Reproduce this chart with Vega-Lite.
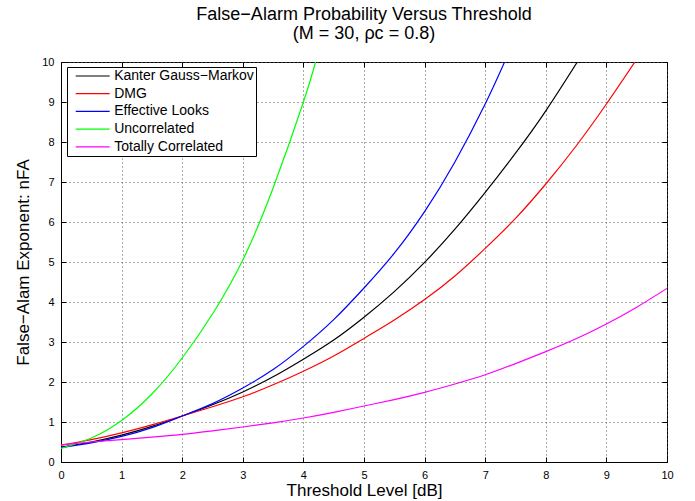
{
  "$schema": "https://vega.github.io/schema/vega-lite/v6.json",
  "width": 606,
  "height": 400,
  "autosize": {"type": "none"},
  "padding": {"left": 61, "top": 62, "right": 28, "bottom": 39},
  "background": "white",
  "config": {
    "font": "Liberation Sans",
    "view": {"stroke": "black", "strokeWidth": 1},
    "axis": {
      "domainColor": "black",
      "tickColor": "black",
      "labelColor": "black",
      "titleColor": "black",
      "labelFontSize": 11,
      "titleFontSize": 17,
      "titleFontWeight": "normal",
      "gridColor": "#555555",
      "gridDash": [1, 3],
      "gridWidth": 1
    }
  },
  "title": {
    "text": ["False−Alarm Probability Versus Threshold", "(M = 30, ρc = 0.8)"],
    "fontSize": 18,
    "fontWeight": "normal",
    "color": "black",
    "anchor": "middle",
    "lineHeight": 19,
    "offset": 13
  },
  "data": {
    "values": [
      {"s": "Kanter Gauss−Markov", "x": 0, "y": 0.375},
      {"s": "Kanter Gauss−Markov", "x": 0.5, "y": 0.5},
      {"s": "Kanter Gauss−Markov", "x": 1, "y": 0.67},
      {"s": "Kanter Gauss−Markov", "x": 1.5, "y": 0.89},
      {"s": "Kanter Gauss−Markov", "x": 2, "y": 1.15},
      {"s": "Kanter Gauss−Markov", "x": 2.5, "y": 1.43},
      {"s": "Kanter Gauss−Markov", "x": 3, "y": 1.75},
      {"s": "Kanter Gauss−Markov", "x": 3.5, "y": 2.13},
      {"s": "Kanter Gauss−Markov", "x": 4, "y": 2.57},
      {"s": "Kanter Gauss−Markov", "x": 4.5, "y": 3.05},
      {"s": "Kanter Gauss−Markov", "x": 5, "y": 3.62},
      {"s": "Kanter Gauss−Markov", "x": 5.5, "y": 4.26},
      {"s": "Kanter Gauss−Markov", "x": 6, "y": 4.99},
      {"s": "Kanter Gauss−Markov", "x": 6.5, "y": 5.82},
      {"s": "Kanter Gauss−Markov", "x": 7, "y": 6.74},
      {"s": "Kanter Gauss−Markov", "x": 7.5, "y": 7.72},
      {"s": "Kanter Gauss−Markov", "x": 8, "y": 8.78},
      {"s": "Kanter Gauss−Markov", "x": 8.52, "y": 10},
      {"s": "DMG", "x": 0, "y": 0.42},
      {"s": "DMG", "x": 0.5, "y": 0.56},
      {"s": "DMG", "x": 1, "y": 0.73},
      {"s": "DMG", "x": 1.5, "y": 0.93},
      {"s": "DMG", "x": 2, "y": 1.15},
      {"s": "DMG", "x": 2.5, "y": 1.38},
      {"s": "DMG", "x": 3, "y": 1.63},
      {"s": "DMG", "x": 3.5, "y": 1.93},
      {"s": "DMG", "x": 4, "y": 2.27},
      {"s": "DMG", "x": 4.5, "y": 2.65},
      {"s": "DMG", "x": 5, "y": 3.09},
      {"s": "DMG", "x": 5.5, "y": 3.55},
      {"s": "DMG", "x": 6, "y": 4.06},
      {"s": "DMG", "x": 6.5, "y": 4.65},
      {"s": "DMG", "x": 7, "y": 5.34},
      {"s": "DMG", "x": 7.5, "y": 6.09},
      {"s": "DMG", "x": 8, "y": 6.95},
      {"s": "DMG", "x": 8.5, "y": 7.9},
      {"s": "DMG", "x": 9, "y": 8.95},
      {"s": "DMG", "x": 9.47, "y": 10},
      {"s": "Effective Looks", "x": 0, "y": 0.36},
      {"s": "Effective Looks", "x": 0.5, "y": 0.48},
      {"s": "Effective Looks", "x": 1, "y": 0.64},
      {"s": "Effective Looks", "x": 1.5, "y": 0.86},
      {"s": "Effective Looks", "x": 2, "y": 1.15},
      {"s": "Effective Looks", "x": 2.5, "y": 1.46},
      {"s": "Effective Looks", "x": 3, "y": 1.85},
      {"s": "Effective Looks", "x": 3.5, "y": 2.31},
      {"s": "Effective Looks", "x": 4, "y": 2.89},
      {"s": "Effective Looks", "x": 4.5, "y": 3.56},
      {"s": "Effective Looks", "x": 5, "y": 4.35},
      {"s": "Effective Looks", "x": 5.5, "y": 5.22},
      {"s": "Effective Looks", "x": 6, "y": 6.26},
      {"s": "Effective Looks", "x": 6.5, "y": 7.5},
      {"s": "Effective Looks", "x": 7, "y": 8.95},
      {"s": "Effective Looks", "x": 7.32, "y": 10},
      {"s": "Uncorrelated", "x": 0, "y": 0.34},
      {"s": "Uncorrelated", "x": 0.5, "y": 0.6},
      {"s": "Uncorrelated", "x": 1, "y": 1.04},
      {"s": "Uncorrelated", "x": 1.5, "y": 1.7},
      {"s": "Uncorrelated", "x": 2, "y": 2.6},
      {"s": "Uncorrelated", "x": 2.5, "y": 3.7},
      {"s": "Uncorrelated", "x": 3, "y": 5.05},
      {"s": "Uncorrelated", "x": 3.5, "y": 6.85},
      {"s": "Uncorrelated", "x": 4, "y": 9.0},
      {"s": "Uncorrelated", "x": 4.2, "y": 10},
      {"s": "Totally Correlated", "x": 0, "y": 0.43},
      {"s": "Totally Correlated", "x": 0.5, "y": 0.5},
      {"s": "Totally Correlated", "x": 1, "y": 0.56},
      {"s": "Totally Correlated", "x": 1.5, "y": 0.62},
      {"s": "Totally Correlated", "x": 2, "y": 0.69},
      {"s": "Totally Correlated", "x": 2.5, "y": 0.78},
      {"s": "Totally Correlated", "x": 3, "y": 0.875},
      {"s": "Totally Correlated", "x": 3.5, "y": 0.98},
      {"s": "Totally Correlated", "x": 4, "y": 1.1},
      {"s": "Totally Correlated", "x": 4.5, "y": 1.24},
      {"s": "Totally Correlated", "x": 5, "y": 1.4},
      {"s": "Totally Correlated", "x": 5.5, "y": 1.56},
      {"s": "Totally Correlated", "x": 6, "y": 1.74},
      {"s": "Totally Correlated", "x": 6.5, "y": 1.95},
      {"s": "Totally Correlated", "x": 7, "y": 2.18},
      {"s": "Totally Correlated", "x": 7.5, "y": 2.46},
      {"s": "Totally Correlated", "x": 8, "y": 2.76},
      {"s": "Totally Correlated", "x": 8.5, "y": 3.08},
      {"s": "Totally Correlated", "x": 9, "y": 3.45},
      {"s": "Totally Correlated", "x": 9.5, "y": 3.87},
      {"s": "Totally Correlated", "x": 10, "y": 4.34}
    ]
  },
  "layer": [
    {
      "mark": {"type": "line", "strokeWidth": 1.2, "interpolate": "natural", "clip": true},
      "encoding": {
        "x": {
          "field": "x", "type": "quantitative",
          "scale": {"domain": [0, 10], "nice": false},
          "axis": {"title": "Threshold Level [dB]", "values": [0,1,2,3,4,5,6,7,8,9,10], "tickSize": -5, "labelPadding": 12, "titlePadding": 2, "grid": true, "labelFlush": false}
        },
        "y": {
          "field": "y", "type": "quantitative",
          "scale": {"domain": [0, 10], "nice": false},
          "axis": {"title": "False−Alam Exponent: nFA", "values": [0,1,2,3,4,5,6,7,8,9,10], "tickSize": -5, "labelPadding": 12, "titlePadding": 9, "grid": true, "labelFlush": false}
        },
        "color": {
          "field": "s", "type": "nominal",
          "scale": {
            "domain": ["Kanter Gauss−Markov", "DMG", "Effective Looks", "Uncorrelated", "Totally Correlated"],
            "range": ["#000000", "#ff0000", "#0000ff", "#00ff00", "#ff00ff"]
          },
          "legend": {
            "orient": "none", "legendX": 6, "legendY": 5, "title": null,
            "symbolType": "M-3,0H3", "symbolSize": 128, "symbolStrokeWidth": 1.2,
            "labelFontSize": 14, "labelColor": "black", "labelLimit": 300,
            "strokeColor": "black", "fillColor": "white", "padding": 2,
            "rowPadding": 3.7, "symbolOffset": 16.7, "labelOffset": 14.5
          }
        }
      }
    },
    {
      "mark": {"type": "point", "opacity": 0, "size": 0},
      "encoding": {
        "x": {"field": "x", "type": "quantitative", "scale": {"domain": [0, 10], "nice": false},
          "axis": {"orient": "top", "values": [0,1,2,3,4,5,6,7,8,9,10], "labels": false, "title": null, "grid": false, "tickSize": -5, "domain": false}},
        "y": {"field": "y", "type": "quantitative", "scale": {"domain": [0, 10], "nice": false},
          "axis": {"orient": "right", "values": [0,1,2,3,4,5,6,7,8,9,10], "labels": false, "title": null, "grid": false, "tickSize": -5, "domain": false}}
      }
    }
  ],
  "resolve": {"axis": {"x": "independent", "y": "independent"}}
}
